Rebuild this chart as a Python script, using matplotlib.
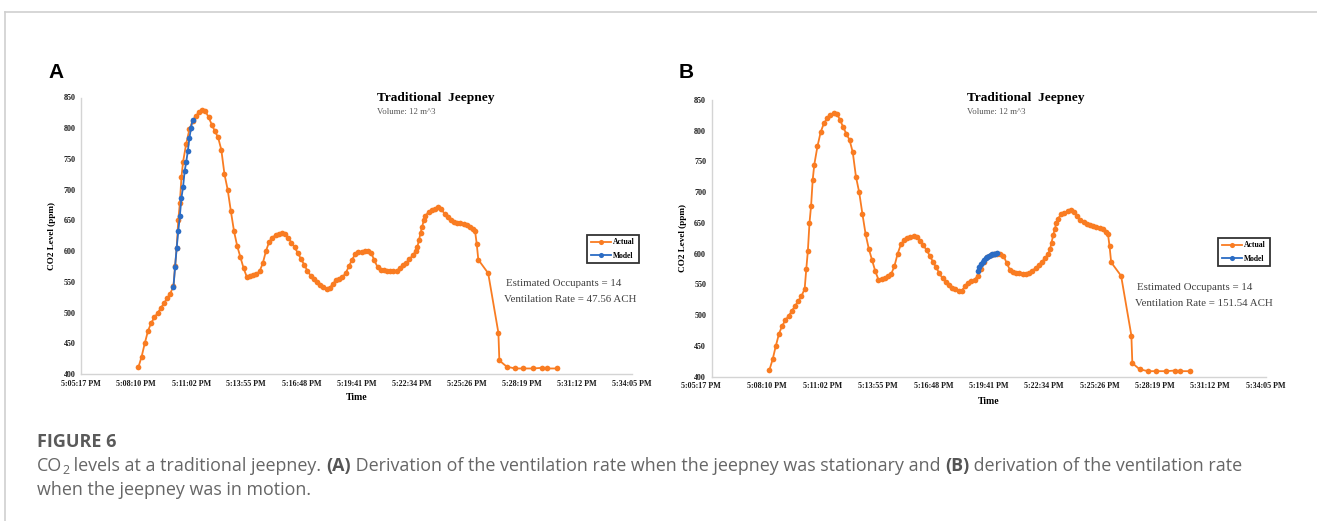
import matplotlib
matplotlib.use('Agg')
import matplotlib.pyplot as plt
from matplotlib.lines import Line2D
from matplotlib.transforms import ScaledTranslation

# ---------------- data ----------------
# time in seconds after 5:05:17 PM (axis origin), CO2 in ppm
actual_t = [180, 190, 200, 210, 220, 230, 240, 250, 260, 270, 280, 290, 295, 300, 305,
            310, 315, 320, 330, 340, 350, 360, 370, 380, 390, 400, 410, 420, 430, 440,
            450, 460, 470, 480, 490, 500, 510, 520, 530, 540, 550, 560, 570, 580, 590,
            600, 610, 620, 630, 640, 650, 660, 670, 680, 690, 700, 710, 720, 730, 740,
            750, 760, 770, 780, 790, 800, 810, 820, 830, 840, 850, 860, 870, 880, 890,
            900, 910, 920, 930, 940, 950, 960, 970, 980, 990, 1000, 1010, 1020, 1030,
            1040, 1050, 1055, 1060, 1065, 1070, 1075, 1080, 1090, 1100, 1110, 1120, 1130,
            1140, 1150, 1160, 1170, 1180, 1190, 1200, 1210, 1220, 1230, 1236, 1241, 1246,
            1277, 1309, 1312, 1335, 1361, 1387, 1418, 1445, 1460, 1492]
actual_v = [411, 428, 450, 470, 483, 492, 499, 507, 515, 523, 531, 543, 575, 605, 650,
            678, 720, 745, 775, 798, 812, 820, 826, 829, 828, 818, 806, 795, 785, 765,
            725, 700, 665, 632, 608, 590, 572, 558, 559, 561, 563, 567, 580, 600, 615,
            622, 626, 628, 629, 628, 621, 614, 606, 597, 587, 578, 568, 560, 554, 549,
            545, 542, 539, 540, 547, 553, 555, 558, 564, 575, 586, 595, 598, 599, 600,
            600, 597, 585, 574, 570, 569, 568, 567, 567, 568, 572, 577, 581, 587,
            593, 600, 607, 618, 630, 640, 650, 657, 664, 667, 669, 671, 668,
            661, 655, 651, 648, 646, 645, 644, 642, 640, 636, 632, 612, 586,
            564, 467, 422, 412, 409, 409, 409, 410, 409, 409]

modelA_t = [290, 295, 300, 305, 310, 315, 320, 325, 330, 335, 340, 345, 350]
modelA_v = [542, 574, 605, 632, 657, 687, 704, 730, 745, 763, 784, 800, 814]

modelB_t = [830, 835, 840, 845, 850, 855, 860, 865, 870, 875, 880, 885, 890]
modelB_v = [572, 578, 583, 587, 590, 593, 595, 596.5, 598, 599, 599.5, 600, 600.5]

x_ticks = [0, 172.8, 345.6, 518.4, 691.2, 864, 1036.8, 1209.6, 1382.4, 1555.2, 1728]
x_labels = ['5:05:17 PM', '5:08:10 PM', '5:11:02 PM', '5:13:55 PM', '5:16:48 PM',
            '5:19:41 PM', '5:22:34 PM', '5:25:26 PM', '5:28:19 PM', '5:31:12 PM',
            '5:34:05 PM']
y_ticks = [400, 450, 500, 550, 600, 650, 700, 750, 800, 850]

panels = [
    dict(letter='A', occupants='Estimated Occupants = 14',
         vent='Ventilation Rate = 47.56 ACH', mt=modelA_t, mv=modelA_v),
    dict(letter='B', occupants='Estimated Occupants = 14',
         vent='Ventilation Rate = 151.54 ACH', mt=modelB_t, mv=modelB_v),
]

# ---------------- style ----------------
W, H = 1317, 521
ORANGE = '#F97C22'
BLUE = '#2B6CC4'
SERIF = 'Liberation Serif'
SANS = 'Open Sans'

fig = plt.figure(figsize=(W / 100, H / 100), dpi=100)

def fx(x):
    return x / W

def fy(y):
    return 1 - y / H

# layout in pixels: (left, right, top, bottom)
rects = [(81, 632, 97.5, 374), (711.7, 1265.7, 100, 376.7)]
layout = [
    dict(letter=(48, 72), title=(377, 98), vol=(377, 112), legend=(613, 249),
         occ=(506, 283), vent=(504, 300), xlabel_y=398, ylabel_x=52, first_shift=0),
    dict(letter=(679, 72), title=(967, 98), vol=(967, 112), legend=(1244, 252),
         occ=(1137, 287), vent=(1135, 303), xlabel_y=402, ylabel_x=683, first_shift=-11),
]

for p, (l, r, t, b), lay in zip(panels, rects, layout):
    ax = fig.add_axes([fx(l), fy(b), (r - l) / W, (b - t) / H])
    ax.plot(actual_t, actual_v, '-o', color=ORANGE, lw=1.3, ms=4.1, mec=ORANGE,
            mew=0, label='Actual', zorder=2)
    ax.plot(p['mt'], p['mv'], '-o', color=BLUE, lw=1.3, ms=4.1, mec=BLUE,
            mew=0, label='Model', zorder=3)
    ax.set_xlim(x_ticks[0], x_ticks[-1])
    ax.set_ylim(400, 850)
    ax.set_xticks(x_ticks)
    ax.set_xticklabels(x_labels, fontfamily=SERIF, fontsize=5.8, fontweight='bold',
                       color='#1a1a1a')
    ax.set_yticks(y_ticks)
    ax.set_yticklabels([str(v) for v in y_ticks], fontfamily=SERIF, fontsize=5.8,
                       fontweight='bold', color='#1a1a1a')
    ax.tick_params(length=0, pad=4)
    if lay['first_shift']:
        lab = ax.get_xticklabels()[0]
        lab.set_transform(lab.get_transform() +
                          ScaledTranslation(lay['first_shift'] / 100, 0,
                                            fig.dpi_scale_trans))
    for s in ['top', 'right']:
        ax.spines[s].set_visible(False)
    for s in ['left', 'bottom']:
        ax.spines[s].set_color('#d4d4d4')
        ax.spines[s].set_linewidth(1.0)
    ax.set_facecolor('none')

    fig.text(fx((l + r) / 2), fy(lay['xlabel_y']), 'Time', ha='center', va='center',
             fontfamily=SERIF, fontweight='bold', fontsize=7)
    fig.text(fx(lay['ylabel_x']), fy((t + b) / 2), 'CO2 Level (ppm)', rotation=90,
             ha='center', va='center', fontfamily=SERIF, fontweight='bold', fontsize=6.6)
    fig.text(fx(lay['title'][0]), fy(lay['title'][1]), 'Traditional  Jeepney',
             ha='left', va='center', fontfamily=SERIF, fontweight='bold', fontsize=9.6)
    fig.text(fx(lay['vol'][0]), fy(lay['vol'][1]), 'Volume: 12 m^3', ha='left',
             va='center', fontfamily=SERIF, fontsize=6.3, color='#555555')
    fig.text(fx(lay['occ'][0]), fy(lay['occ'][1]), p['occupants'], ha='left',
             va='center', fontfamily=SERIF, fontsize=7.8, color='#404040')
    fig.text(fx(lay['vent'][0]), fy(lay['vent'][1]), p['vent'], ha='left',
             va='center', fontfamily=SERIF, fontsize=7.8, color='#404040')
    fig.text(fx(lay['letter'][0]), fy(lay['letter'][1]), p['letter'], ha='left',
             va='center', fontfamily='Liberation Sans', fontweight='bold', fontsize=15)

    leg = fig.legend(handles=ax.get_lines(), loc='center',
                     bbox_to_anchor=(fx(lay['legend'][0]), fy(lay['legend'][1])),
                     prop=dict(family=SERIF, weight='bold', size=5.5),
                     frameon=True, fancybox=False, handlelength=2.6,
                     handletextpad=0.3, borderpad=0.5, labelspacing=0.7,
                     markerscale=0.9)
    leg.get_frame().set_edgecolor('black')
    leg.get_frame().set_linewidth(1.3)

# ---------------- border ----------------
fig.add_artist(Line2D([fx(4.5), 1], [fy(11.5), fy(11.5)], color='#cfcfcf', lw=1.2))
fig.add_artist(Line2D([fx(4.5), fx(4.5)], [fy(11.5), 0], color='#cfcfcf', lw=1.2))

# ---------------- caption ----------------
renderer = fig.canvas.get_renderer()

def width_of(s, **kw):
    t1 = fig.text(0, 0, s + '|', **kw)
    t2 = fig.text(0, 0, '|', **kw)
    w = t1.get_window_extent(renderer).width - t2.get_window_extent(renderer).width
    t1.remove()
    t2.remove()
    return w

def row(x, y, pieces):
    for s, kw, dy in pieces:
        fig.text(fx(x), fy(y + dy), s, ha='left', va='baseline', **kw)
        x += width_of(s, **kw)

CS = 12.9
CAP = dict(fontfamily=SANS, fontsize=CS, color='#666666')
CAPB = dict(fontfamily=SANS, fontsize=CS, color='#555555', fontweight='bold')
SUB = dict(fontfamily=SANS, fontsize=CS * 0.7, color='#666666')

X0 = 37
fig.text(fx(X0), fy(447), 'FIGURE 6', ha='left', va='baseline', fontfamily=SANS,
         fontsize=13, fontweight='bold', color='#5a5a5a')
row(X0, 471, [
    ('CO', CAP, 0), ('2', SUB, 3.5),
    (' levels at a traditional jeepney. ', CAP, 0), ('(A)', CAPB, 0),
    (' Derivation of the ventilation rate when the jeepney was stationary and ', CAP, 0),
    ('(B)', CAPB, 0), (' derivation of the ventilation rate', CAP, 0),
])
row(X0, 495, [('when the jeepney was in motion.', CAP, 0)])

fig.savefig('out.png', dpi=100, facecolor='white')
